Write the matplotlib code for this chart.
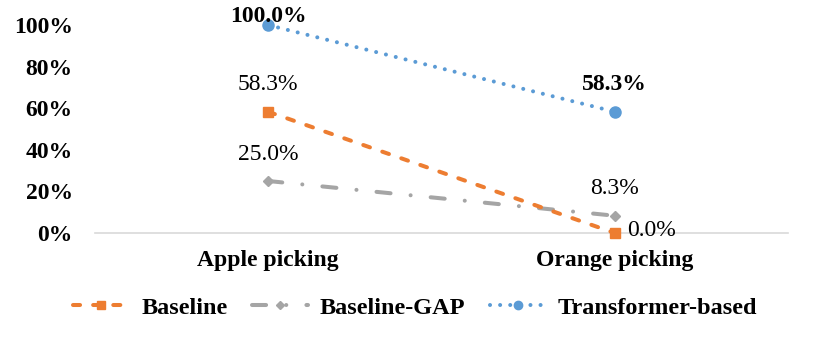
import matplotlib.pyplot as plt
from matplotlib.ticker import PercentFormatter

categories = ["Apple picking", "Orange picking"]
baseline = [0.583, 0.0]
baseline_gap = [0.25, 0.083]
transformer = [1.0, 0.583]

plt.rcParams['font.family'] = ['Liberation Serif', 'DejaVu Serif']

fig = plt.figure(figsize=(8.14, 3.48), dpi=100)
ax = fig.add_axes([0.1167, 0.3305, 0.8513, 0.5975])

x = [0, 1]
lw = 2.9
ax.plot(x, baseline, color="#ED7D31", lw=lw, ls=(0, (1.75, 3.25)), dash_capstyle="round",
        marker="s", ms=7.5, label="Baseline", clip_on=False, zorder=3)
ax.plot(x, baseline_gap, color="#A5A5A5", lw=lw, ls=(0, (3.5, 5, 0.01, 5)), dash_capstyle="round",
        marker="D", ms=5.5, label="Baseline-GAP", clip_on=False, zorder=2)
ax.plot(x, transformer, color="#5B9BD5", lw=lw, ls=(0, (0.01, 2.5)), dash_capstyle="round",
        marker="o", ms=8, label="Transformer-based", clip_on=False, zorder=3)

fs = 17
# data labels
def lab(txt, xy, dx, dy, ha="center", bold=False):
    ax.annotate(txt, xy, xytext=(dx, dy), textcoords="offset points", ha=ha, va="center",
                fontsize=fs, fontweight="bold" if bold else "normal", annotation_clip=False)

lab("58.3%", (0, baseline[0]), 0, 19.5)
lab("0.0%", (1, baseline[1]), 9, 2, ha="left")
lab("25.0%", (0, baseline_gap[0]), 0, 19)
lab("8.3%", (1, baseline_gap[1]), 0, 19.5)
lab("100.0%", (0, transformer[0]), 0, 6, bold=True)
lab("58.3%", (1, transformer[1]), 0, 19.5, bold=True)

ax.set_xlim(-0.5, 1.5)
ax.set_ylim(0, 1)
ax.set_yticks([0, 0.2, 0.4, 0.6, 0.8, 1.0])
ax.yaxis.set_major_formatter(PercentFormatter(1.0, decimals=0))
ax.set_xticks(x)
ax.set_xticklabels(categories)
for t in ax.get_xticklabels() + ax.get_yticklabels():
    t.set_fontweight("bold")
    t.set_fontsize(fs)
ax.tick_params(length=0)
ax.tick_params(axis="x", pad=12)
ax.tick_params(axis="y", pad=16)

for s in ["top", "right", "left"]:
    ax.spines[s].set_visible(False)
ax.spines["bottom"].set_color("#D9D9D9")
ax.spines["bottom"].set_linewidth(1.2)
ax.patch.set_alpha(0)

leg = fig.legend(loc="center", bbox_to_anchor=(0.51, 0.115), ncol=3, frameon=False,
                 prop={"weight": "bold", "size": 17.5}, handlelength=2.3, columnspacing=1.0,
                 handletextpad=0.5, markerscale=0.75)

fig.savefig("out.png", dpi=100)
